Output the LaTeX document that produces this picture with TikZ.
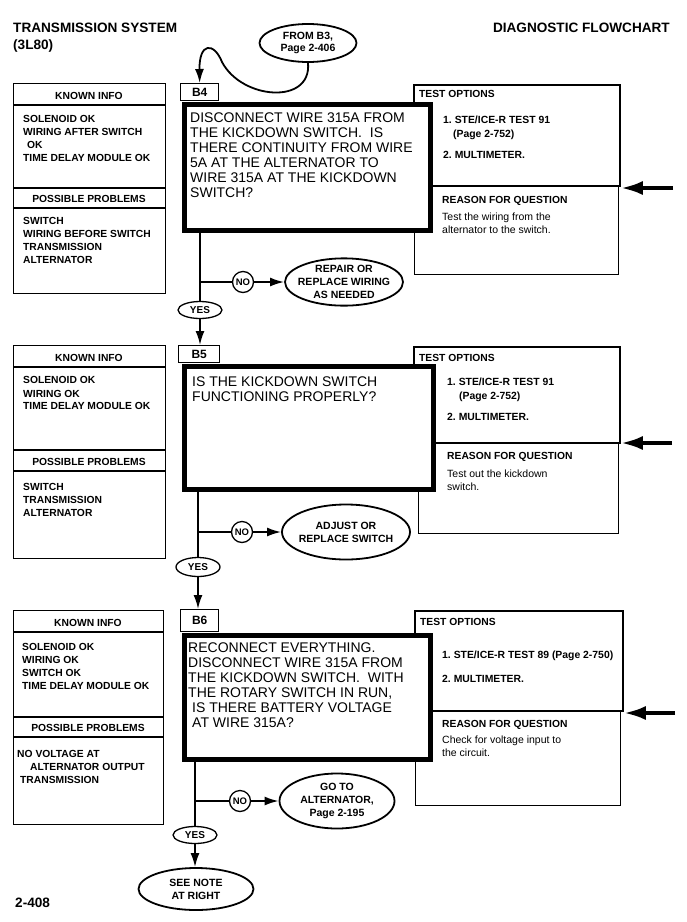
\documentclass[tikz,border=0pt]{standalone}
\usepackage{fontspec}
\setmainfont{Liberation Sans}
\usetikzlibrary{shapes.geometric, arrows.meta, positioning}
\frenchspacing

\begin{document}
\begin{tikzpicture}[
    x=1pt, y=-1pt,
    headline/.style={font=\bfseries\fontsize{13.6}{17}\selectfont, align=left, inner sep=0pt},
    infobox/.style={rectangle, draw, line width=1.2pt, anchor=north west, inner sep=0pt},
    optbox/.style={infobox, line width=1.8pt},
    askbox/.style={rectangle, draw, line width=4.5pt, fill=white, anchor=north west, inner sep=0pt},
    tabbox/.style={rectangle, draw, line width=1.4pt, fill=white, anchor=north west, inner sep=0pt, font=\bfseries\fontsize{12}{14}\selectfont},
    divider/.style={line width=1.2pt},
    boxhead/.style={font=\bfseries\fontsize{10.3}{13}\selectfont, inner sep=0pt},
    itemlist/.style={font=\bfseries\fontsize{10.3}{13}\selectfont, align=left, anchor=north west, inner sep=0pt},
    optlist/.style={itemlist, font=\bfseries\fontsize{10.4}{14}\selectfont},
    whytext/.style={itemlist, font=\fontsize{10.5}{13.5}\selectfont},
    asktext/.style={font=\fontsize{14}{15}\selectfont, align=left, anchor=north west, inner sep=0pt},
    outcome/.style={ellipse, draw, line width=1.8pt, fill=white, align=center, inner xsep=-5pt, inner ysep=0pt, font=\bfseries\fontsize{10.5}{13}\selectfont},
    yesmark/.style={ellipse, draw, line width=1.3pt, fill=white, minimum width=44pt, minimum height=17pt, inner sep=0pt, font=\bfseries\fontsize{10}{12}\selectfont},
    nomark/.style={circle, draw, line width=1.3pt, fill=white, minimum size=21pt, inner sep=0pt, font=\bfseries\fontsize{9.5}{11}\selectfont},
    stem/.style={line width=1.8pt},
    arrow/.style={-{Latex[length=14pt, width=9pt]}, line width=1.8pt},
    bigarrow/.style={-{Latex[length=22pt, width=14pt]}, line width=4pt}
]
\useasboundingbox (0,0) rectangle (687,922);

% page header
\node[headline, anchor=north west] (system) at (13,22.3) {TRANSMISSION SYSTEM\\(3L80)};
\node[headline, anchor=base east] (kind) at (670,32) {DIAGNOSTIC FLOWCHART};
\node[outcome, minimum width=97pt, minimum height=38pt, font=\bfseries\fontsize{10.5}{12.5}\selectfont] (from) at (308,43) {FROM B3,\\Page 2-406};

% B4
\node[infobox, minimum width=152pt, minimum height=210pt] (known4) at (13,83) {};
\draw[divider] ([yshift=-22pt]known4.north west) -- ([yshift=-22pt]known4.north east);
\draw[divider] ([yshift=-105pt]known4.north west) -- ([yshift=-105pt]known4.north east);
\draw[divider] ([yshift=-125pt]known4.north west) -- ([yshift=-125pt]known4.north east);
\node[boxhead, anchor=base] (kh4) at (89,99) {KNOWN INFO};
\node[itemlist] (kl4) at (23,115.6) {SOLENOID OK\\WIRING AFTER SWITCH\\\hspace{4pt}OK\\TIME DELAY MODULE OK};
\node[boxhead, anchor=base] (ph4) at (89,202) {POSSIBLE PROBLEMS};
\node[itemlist] (pl4) at (23,217.6) {SWITCH\\WIRING BEFORE SWITCH\\TRANSMISSION\\ALTERNATOR};
\node[optbox, minimum width=206pt, minimum height=101pt] (test4) at (413,84) {};
\node[infobox, minimum width=204pt, minimum height=89pt] (why4) at (414,185) {};
\node[boxhead, anchor=base west] (th4) at (419,97) {TEST OPTIONS};
\node[optlist] (tl4) at (443,115.6) {1. STE/ICE-R TEST 91\\\hspace{10pt}(Page 2-752)\\[7pt]2. MULTIMETER.};
\node[boxhead, anchor=base west] (wh4) at (442,203) {REASON FOR QUESTION};
\node[whytext] (wt4) at (442,212.5) {Test the wiring from the\\alternator to the switch.};
\node[tabbox, minimum width=38pt, minimum height=17pt] (tab4) at (180,83) {B4};
\node[askbox, minimum width=246pt, minimum height=126pt] (q4) at (182,102) {};
\node[asktext] (qt4) at (190,113) {DISCONNECT WIRE 315A FROM\\THE KICKDOWN SWITCH.\ \ IS\\THERE CONTINUITY FROM WIRE\\5A AT THE ALTERNATOR TO\\WIRE 315A AT THE KICKDOWN\\SWITCH?};
\coordinate (in4) at (673,188);
\node[yesmark] (yes4) at (200,310) {YES};
\node[nomark] (no4) at (243,282) {NO};
\node[outcome, minimum width=118pt, minimum height=45pt] (fix4) at (344,282) {REPAIR OR\\REPLACE WIRING\\AS NEEDED};

% B5
\node[infobox, minimum width=152pt, minimum height=213pt] (known5) at (13,345) {};
\draw[divider] ([yshift=-22pt]known5.north west) -- ([yshift=-22pt]known5.north east);
\draw[divider] ([yshift=-105pt]known5.north west) -- ([yshift=-105pt]known5.north east);
\draw[divider] ([yshift=-126pt]known5.north west) -- ([yshift=-126pt]known5.north east);
\node[boxhead, anchor=base] (kh5) at (89,361) {KNOWN INFO};
\node[itemlist] (kl5) at (23,376.6) {SOLENOID OK\\WIRING OK\\TIME DELAY MODULE OK};
\node[boxhead, anchor=base] (ph5) at (89,465) {POSSIBLE PROBLEMS};
\node[itemlist] (pl5) at (23,482.6) {SWITCH\\TRANSMISSION\\ALTERNATOR};
\node[optbox, minimum width=206pt, minimum height=96pt] (test5) at (413,346) {};
\node[infobox, minimum width=200pt, minimum height=91pt] (why5) at (418,442) {};
\node[boxhead, anchor=base west] (th5) at (419,361) {TEST OPTIONS};
\node[optlist] (tl5) at (447,377.6) {1. STE/ICE-R TEST 91\\\hspace{12pt}(Page 2-752)\\[7pt]2. MULTIMETER.};
\node[boxhead, anchor=base west] (wh5) at (447,459) {REASON FOR QUESTION};
\node[whytext] (wt5) at (447,469.5) {Test out the kickdown\\switch.};
\node[tabbox, minimum width=41pt, minimum height=17pt] (tab5) at (178,345) {B5};
\node[askbox, minimum width=249pt, minimum height=123pt] (q5) at (182,364) {};
\node[asktext] (qt5) at (192,377) {IS THE KICKDOWN SWITCH\\FUNCTIONING PROPERLY?};
\coordinate (in5) at (672,443);
\node[yesmark, minimum height=19pt] (yes5) at (198,567) {YES};
\node[nomark] (no5) at (242,532) {NO};
\node[outcome, minimum width=128pt, minimum height=55pt] (fix5) at (346,532) {ADJUST OR\\REPLACE SWITCH};

% B6
\node[infobox, minimum width=150pt, minimum height=214pt] (known6) at (13,610) {};
\draw[divider] ([yshift=-22pt]known6.north west) -- ([yshift=-22pt]known6.north east);
\draw[divider] ([yshift=-107pt]known6.north west) -- ([yshift=-107pt]known6.north east);
\draw[divider] ([yshift=-127pt]known6.north west) -- ([yshift=-127pt]known6.north east);
\node[boxhead, anchor=base] (kh6) at (88,626) {KNOWN INFO};
\node[itemlist] (kl6) at (22,642.6) {SOLENOID OK\\WIRING OK\\SWITCH OK\\TIME DELAY MODULE OK};
\node[boxhead, anchor=base] (ph6) at (88,731) {POSSIBLE PROBLEMS};
\node[itemlist] (pl6) at (17,749.6) {NO VOLTAGE AT\\\hspace{13pt}ALTERNATOR OUTPUT\\\hspace{3pt}TRANSMISSION};
\node[optbox, minimum width=208pt, minimum height=100pt] (test6) at (414,610) {};
\node[infobox, minimum width=205pt, minimum height=95pt] (why6) at (415,710) {};
\node[boxhead, anchor=base west] (th6) at (420,625) {TEST OPTIONS};
\node[optlist] (tl6) at (442,650.6) {1. STE/ICE-R TEST 89 (Page 2-750)\\[10pt]2. MULTIMETER.};
\node[boxhead, anchor=base west] (wh6) at (442,727) {REASON FOR QUESTION};
\node[whytext] (wt6) at (442,735.5) {Check for voltage input to\\the circuit.};
\node[tabbox, minimum width=38pt, minimum height=22pt] (tab6) at (180,609) {B6};
\node[askbox, minimum width=246pt, minimum height=124pt] (q6) at (182,633) {};
\node[asktext] (qt6) at (188,643) {RECONNECT EVERYTHING.\\DISCONNECT WIRE 315A FROM\\THE KICKDOWN SWITCH.\ \ WITH\\THE ROTARY SWITCH IN RUN,\\\hspace{4pt}IS THERE BATTERY VOLTAGE\\\hspace{4pt}AT WIRE 315A?};
\coordinate (in6) at (675,713);
\node[yesmark] (yes6) at (195,835) {YES};
\node[nomark] (no6) at (240,801) {NO};
\node[outcome, minimum width=115pt, minimum height=55pt] (fix6) at (337,801) {GO TO\\ALTERNATOR,\\Page 2-195};
\node[outcome, minimum width=115pt, minimum height=42pt] (note) at (196,889) {SEE NOTE\\AT RIGHT};
\node[headline, anchor=base west] (page) at (15,907) {2-408};

% connectors
\draw[arrow] (from.south) .. controls (312,105) and (242,100) .. (222,62) .. controls (214,42) and (199,42) .. (tab4.north);
\draw[bigarrow] (in4) -- (in4 -| test4.east);
\draw[bigarrow] (in5) -- (in5 -| test5.east);
\draw[bigarrow] (in6) -- (in6 -| test6.east);
\draw[stem] (q4.south -| yes4) -- (yes4);
\draw[stem] (yes4 |- no4) -- (no4);
\draw[arrow] (no4) -- (fix4);
\draw[arrow] (yes4) -- (yes4 |- tab5.north);
\draw[stem] (q5.south -| yes5) -- (yes5);
\draw[stem] (yes5 |- no5) -- (no5);
\draw[arrow] (no5) -- (fix5);
\draw[arrow] (yes5) -- (yes5 |- tab6.north);
\draw[stem] (q6.south -| yes6) -- (yes6);
\draw[stem] (yes6 |- no6) -- (no6);
\draw[arrow] (no6) -- (fix6);
\draw[arrow] (yes6) -- (yes6 |- note.north);
\end{tikzpicture}
\end{document}
